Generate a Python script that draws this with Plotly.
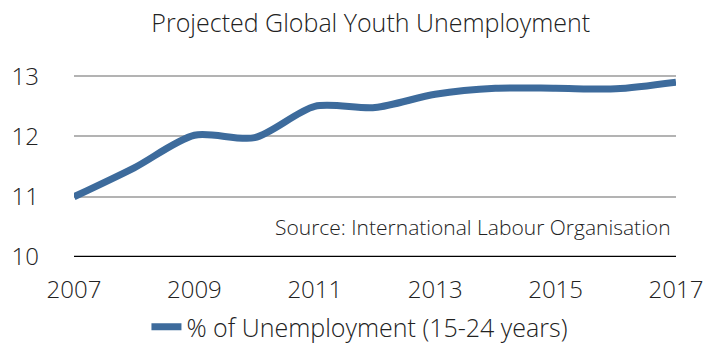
import plotly.graph_objects as go

years = [2007, 2008, 2009, 2010, 2011, 2012, 2013, 2014, 2015, 2016, 2017]
unemployment = [11.0, 11.48, 12.02, 11.98, 12.5, 12.48, 12.7, 12.8, 12.8, 12.79, 12.9]
y_ticks = [10, 11, 12, 13]
x_ticks = [2007, 2009, 2011, 2013, 2015, 2017]

FONT = "Open Sans"
TEXT = "#222222"

fig = go.Figure()
fig.add_trace(go.Scatter(
    x=years, y=unemployment, mode="lines",
    name="% of Unemployment (15-24 years)",
    line=dict(color="#3d6b9c", width=7, shape="spline", smoothing=0.8),
))

fig.update_layout(
    width=713, height=350,
    margin=dict(l=74, r=37, t=75, b=93, autoexpand=False),
    paper_bgcolor="white", plot_bgcolor="white",
    font=dict(family=FONT, color=TEXT, weight=300),
    title=dict(text="Projected Global Youth Unemployment", x=0.52, xanchor="center",
               y=0.935, yanchor="middle",
               font=dict(size=25, family=FONT, color=TEXT, weight=300)),
    xaxis=dict(range=[2007, 2017], tickvals=x_ticks, showgrid=False, zeroline=False,
               showline=False, ticks="",
               tickfont=dict(size=24, color=TEXT, weight=300),
               ticklabelstandoff=16),
    yaxis=dict(range=[10, 13.02], tickvals=y_ticks, showgrid=True, gridcolor="#b3b3b3",
               gridwidth=2, zeroline=False, showline=False, ticks="",
               tickfont=dict(size=24, color=TEXT, weight=300), ticklabelstandoff=34),
    showlegend=True,
    legend=dict(orientation="h", x=0.475, xanchor="center", y=-0.385, yanchor="middle",
                font=dict(size=25, color=TEXT, weight=300), itemwidth=30),
    shapes=[dict(type="line", xref="paper", yref="y", x0=0, x1=1, y0=10, y1=10,
                 line=dict(color="black", width=2.5))],
    annotations=[dict(text="Source: International Labour Organisation", xref="paper",
                      yref="y", x=0.995, y=10.5, xanchor="right", yanchor="middle",
                      showarrow=False, font=dict(size=21, color=TEXT, weight=300))],
)

fig.write_html("out.html")
